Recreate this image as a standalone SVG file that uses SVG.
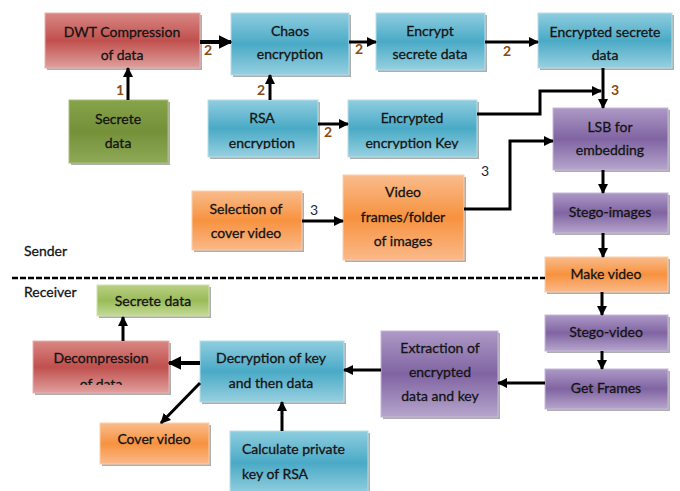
<svg xmlns="http://www.w3.org/2000/svg" width="680" height="491" viewBox="0 0 680 491">
<defs>
<linearGradient id="gRed" x1="0" y1="0" x2="0" y2="1"><stop offset="0" stop-color="#d98784"/><stop offset="0.5" stop-color="#c0504d"/><stop offset="1" stop-color="#dfa09e"/></linearGradient>
<linearGradient id="gBlue" x1="0" y1="0" x2="0" y2="1"><stop offset="0" stop-color="#8fcde0"/><stop offset="0.5" stop-color="#4aaac6"/><stop offset="1" stop-color="#97d0e0"/></linearGradient>
<linearGradient id="gGreen" x1="0" y1="0" x2="0" y2="1"><stop offset="0" stop-color="#86a34a"/><stop offset="0.5" stop-color="#74913a"/><stop offset="1" stop-color="#8fa956"/></linearGradient>
<linearGradient id="gLGreen" x1="0" y1="0" x2="0" y2="1"><stop offset="0" stop-color="#b9d084"/><stop offset="0.5" stop-color="#9bbb59"/><stop offset="1" stop-color="#c4da98"/></linearGradient>
<linearGradient id="gOrange" x1="0" y1="0" x2="0" y2="1"><stop offset="0" stop-color="#f9bc8c"/><stop offset="0.5" stop-color="#f7923f"/><stop offset="1" stop-color="#fab98a"/></linearGradient>
<linearGradient id="gPurple" x1="0" y1="0" x2="0" y2="1"><stop offset="0" stop-color="#ad99c6"/><stop offset="0.5" stop-color="#8064a2"/><stop offset="1" stop-color="#b6a5cc"/></linearGradient>
<marker id="ah" viewBox="0 0 10 10" refX="9" refY="5" markerWidth="3.4" markerHeight="3.4" orient="auto" markerUnits="strokeWidth"><path d="M0,0 L10,5 L0,10 z" fill="#000"/></marker>
<clipPath id="cRSA"><rect x="200" y="95" width="140" height="54"/></clipPath>
<clipPath id="cKey"><rect x="340" y="95" width="150" height="54"/></clipPath>
<clipPath id="cDec"><rect x="25" y="335" width="160" height="50"/></clipPath>
</defs>
<style>
.t{font-family:Lato,"Open Sans","Liberation Sans",sans-serif;font-size:14px;fill:#141414;stroke:#141414;stroke-width:0.3;text-anchor:middle}
.l{font-family:Lato,"Open Sans","Liberation Sans",sans-serif;font-size:14px;fill:#141414;stroke:#141414;stroke-width:0.3}
.n{font-family:Lato,"Liberation Sans",sans-serif;font-size:14px;font-weight:bold;fill:#8a4a12}
.n2{font-family:Lato,"Liberation Sans",sans-serif;font-size:14px;fill:#1a2540}
.red{fill:url(#gRed);stroke:#e6b2b0;stroke-width:1}
.blue{fill:url(#gBlue);stroke:#b7dde8;stroke-width:1}
.green{fill:url(#gGreen);stroke:#a8bf7a;stroke-width:1}
.lgreen{fill:url(#gLGreen);stroke:#d0e2ad;stroke-width:1}
.orange{fill:url(#gOrange);stroke:#fbcfa9;stroke-width:1}
.purple{fill:url(#gPurple);stroke:#c5b8d8;stroke-width:1}
.sh{fill:#6b6b6b;opacity:0.55}
.c{fill:none;stroke:#000;stroke-width:3;marker-end:url(#ah)}
</style>
<rect width="680" height="491" fill="#fff"/>

<g id="dwt"><rect class="sh" x="47" y="15" width="155" height="55"/><rect class="red" x="45" y="13" width="155" height="55"/><text class="t" x="122" y="37">DWT Compression</text><text class="t" x="122" y="60">of data</text></g>
<g id="chaos"><rect class="sh" x="233" y="15" width="118" height="62"/><rect class="blue" x="231" y="13" width="118" height="62"/><text class="t" x="290" y="36">Chaos</text><text class="t" x="290" y="59">encryption</text></g>
<g id="encrypt"><rect class="sh" x="378" y="15" width="109" height="57"/><rect class="blue" x="376" y="13" width="109" height="57"/><text class="t" x="430" y="36">Encrypt</text><text class="t" x="430" y="59">secrete data</text></g>
<g id="encsecret"><rect class="sh" x="540" y="15" width="134" height="55"/><rect class="blue" x="538" y="13" width="134" height="55"/><text class="t" x="605" y="37">Encrypted secrete</text><text class="t" x="605" y="60">data</text></g>
<g id="secret"><rect class="sh" x="71" y="102" width="99" height="63"/><rect class="green" x="69" y="100" width="99" height="63"/><text class="t" x="118" y="124">Secrete</text><text class="t" x="118" y="148">data</text></g>
<g id="rsa"><rect class="sh" x="210" y="102" width="110" height="57"/><rect class="blue" x="208" y="100" width="110" height="57"/><g clip-path="url(#cRSA)"><text class="t" x="262" y="123">RSA</text><text class="t" x="262" y="148">encryption</text></g></g>
<g id="enckey"><rect class="sh" x="350" y="102" width="129" height="57"/><rect class="blue" x="348" y="100" width="129" height="57"/><g clip-path="url(#cKey)"><text class="t" x="412" y="123">Encrypted</text><text class="t" x="412" y="148">encryption Key</text></g></g>
<g id="lsb"><rect class="sh" x="555" y="110" width="115" height="62"/><rect class="purple" x="553" y="108" width="115" height="62"/><text class="t" x="610" y="132">LSB for</text><text class="t" x="610" y="155">embedding</text></g>
<g id="selection"><rect class="sh" x="194" y="193" width="110" height="59"/><rect class="orange" x="192" y="191" width="110" height="59"/><text class="t" x="246" y="214">Selection of</text><text class="t" x="246" y="238">cover video</text></g>
<g id="frames"><rect class="sh" x="345" y="177" width="121" height="85"/><rect class="orange" x="343" y="175" width="121" height="85"/><text class="t" x="403" y="197">Video</text><text class="t" x="403" y="222">frames/folder</text><text class="t" x="403" y="246">of images</text></g>
<g id="stegoimg"><rect class="sh" x="555" y="195" width="115" height="40"/><rect class="purple" x="553" y="193" width="115" height="40"/><text class="t" x="610" y="217">Stego-images</text></g>
<g id="makevideo"><rect class="sh" x="547" y="259" width="123" height="35"/><rect class="orange" x="545" y="257" width="123" height="35"/><text class="t" x="606" y="279">Make video</text></g>

<g id="labels"><text class="l" x="24" y="256">Sender</text><text class="l" x="24" y="297">Receiver</text></g>
<line x1="12" y1="278" x2="545" y2="278" stroke="#000" stroke-width="2.5" stroke-dasharray="6,2"/>

<g id="secret2"><rect class="sh" x="99" y="287" width="112" height="31"/><rect class="lgreen" x="97" y="285" width="112" height="31"/><text class="t" x="153" y="306">Secrete data</text></g>
<g id="decomp"><rect class="sh" x="35" y="343" width="136" height="52"/><rect class="red" x="33" y="341" width="136" height="52"/><g clip-path="url(#cDec)"><text class="t" x="101" y="363">Decompression</text><text class="t" x="101" y="389">of data</text></g></g>
<g id="decrypt"><rect class="sh" x="202" y="343" width="144" height="61"/><rect class="blue" x="200" y="341" width="144" height="61"/><text class="t" x="271" y="363">Decryption of key</text><text class="t" x="271" y="388">and then data</text></g>
<g id="cover"><rect class="sh" x="102" y="425" width="109" height="41"/><rect class="orange" x="100" y="423" width="109" height="41"/><text class="t" x="154" y="444">Cover video</text></g>
<g id="calc"><rect class="sh" x="232" y="433" width="138" height="64"/><rect class="blue" x="230" y="431" width="138" height="64"/><text class="l" x="242" y="454">Calculate private</text><text class="l" x="242" y="479">key of RSA</text></g>
<g id="extract"><rect class="sh" x="383" y="333" width="117" height="86"/><rect class="purple" x="381" y="331" width="117" height="86"/><text class="t" x="440" y="353">Extraction of</text><text class="t" x="440" y="377">encrypted</text><text class="t" x="440" y="401">data and key</text></g>
<g id="stegovid"><rect class="sh" x="547" y="317" width="123" height="36"/><rect class="purple" x="545" y="315" width="123" height="36"/><text class="t" x="606" y="337">Stego-video</text></g>
<g id="getframes"><rect class="sh" x="547" y="371" width="123" height="40"/><rect class="purple" x="545" y="369" width="123" height="40"/><text class="t" x="606" y="393">Get Frames</text></g>

<g id="connectors">
<line class="c" x1="200" y1="42" x2="231" y2="42" style="stroke-width:4"/>
<line class="c" x1="128" y1="100" x2="128" y2="68"/>
<line class="c" x1="270" y1="100" x2="270" y2="75"/>
<line class="c" x1="349" y1="42" x2="376" y2="42"/>
<line class="c" x1="485" y1="42" x2="538" y2="42"/>
<line class="c" x1="318" y1="124" x2="348" y2="124"/>
<line class="c" x1="603" y1="68" x2="603" y2="108"/>
<polyline class="c" points="477,114 540,114 540,91 601,91"/>
<polyline class="c" points="464,209 510,209 510,141 553,141"/>
<line class="c" x1="302" y1="221" x2="343" y2="221"/>
<line class="c" x1="603" y1="170" x2="603" y2="193"/>
<line class="c" x1="603" y1="233" x2="603" y2="257"/>
<line class="c" x1="602" y1="292" x2="602" y2="315"/>
<line class="c" x1="602" y1="351" x2="602" y2="369"/>
<line class="c" x1="545" y1="383" x2="498" y2="383"/>
<line class="c" x1="381" y1="370" x2="344" y2="370"/>
<line class="c" x1="200" y1="363" x2="169" y2="363" style="stroke-width:4"/>
<line class="c" x1="123" y1="341" x2="123" y2="317"/>
<line class="c" x1="200" y1="383" x2="161" y2="423"/>
<line class="c" x1="282" y1="431" x2="282" y2="402"/>
<text class="n" x="204" y="55">2</text>
<text class="n" x="116" y="95">1</text>
<text class="n" x="257" y="95">2</text>
<text class="n" x="355" y="54">2</text>
<text class="n" x="503" y="56">2</text>
<text class="n" x="324" y="137">2</text>
<text class="n" x="611" y="95">3</text>
<text class="n2" x="481" y="176">3</text>
<text class="n2" x="310" y="215">3</text>
</g>
</svg>
